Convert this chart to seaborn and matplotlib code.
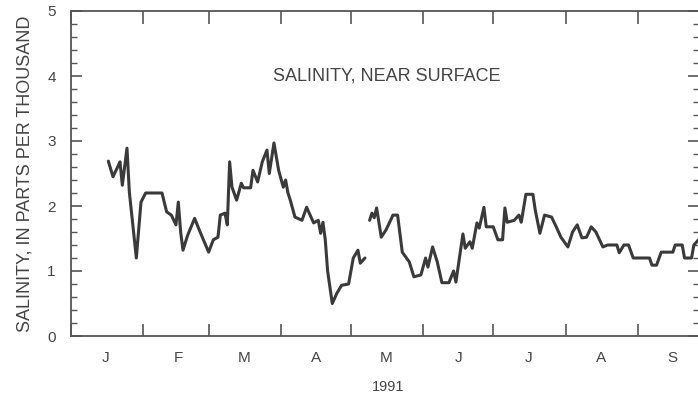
import numpy as np
import pandas as pd
import seaborn as sns
import matplotlib.pyplot as plt
import matplotlib.dates as mdates
from matplotlib.ticker import MultipleLocator, NullFormatter

# days after Jan 1 1991 and salinity (ppt)
seg1_days = [16, 18, 20, 21, 22, 24, 25, 28, 30, 32, 39, 41, 43, 45, 46, 47, 48,
             50, 53, 55, 59, 61, 63, 64, 66, 67, 68, 69, 71, 73, 74, 77, 78, 80,
             82, 84, 85, 87, 89, 91, 92, 93, 94, 96, 99, 101, 102, 104, 106, 107,
             108, 109, 110, 112, 114, 116, 119, 121, 123, 124, 126]
seg1_vals = [2.69, 2.45, 2.60, 2.68, 2.32, 2.89, 2.22, 1.20, 2.06, 2.20, 2.20, 1.91,
             1.86, 1.71, 2.06, 1.60, 1.32, 1.55, 1.81, 1.63, 1.29, 1.48, 1.52, 1.86,
             1.89, 1.71, 2.68, 2.29, 2.09, 2.35, 2.28, 2.28, 2.55, 2.37, 2.68, 2.86,
             2.50, 2.97, 2.55, 2.29, 2.40, 2.20, 2.09, 1.83, 1.78, 1.98, 1.90, 1.74,
             1.78, 1.58, 1.75, 1.48, 1.00, 0.50, 0.66, 0.78, 0.80, 1.20, 1.32, 1.12,
             1.20]

seg2_days = [128, 129, 130, 131, 133, 135, 137, 138, 140, 142, 145, 147, 150, 152,
             153, 155, 157, 159, 162, 164, 165, 168, 169, 171, 172, 174, 175, 177,
             178, 181, 183, 185, 186, 187, 190, 192, 193, 195, 198, 199, 201, 203,
             206, 208, 210, 213, 215, 217, 219, 221, 223, 225, 228, 230, 234, 235,
             237, 239, 241, 248, 249, 251, 253, 258, 259, 262, 263, 266, 267, 269]
seg2_vals = [1.78, 1.89, 1.82, 1.97, 1.52, 1.63, 1.78, 1.86, 1.86, 1.29, 1.14, 0.91,
             0.94, 1.20, 1.06, 1.37, 1.14, 0.82, 0.82, 1.00, 0.83, 1.57, 1.35, 1.45,
             1.35, 1.74, 1.66, 1.98, 1.68, 1.68, 1.48, 1.48, 1.97, 1.75, 1.78, 1.86,
             1.75, 2.18, 2.18, 1.94, 1.58, 1.86, 1.83, 1.68, 1.52, 1.37, 1.60, 1.71,
             1.51, 1.52, 1.68, 1.60, 1.37, 1.40, 1.40, 1.28, 1.40, 1.40, 1.20, 1.20,
             1.09, 1.09, 1.29, 1.29, 1.40, 1.40, 1.20, 1.20, 1.40, 1.48]

month_labels = ["J", "F", "M", "A", "M", "J", "J", "A", "S"]

start = pd.Timestamp("1991-01-01")
df = pd.DataFrame({
    "date": start + pd.to_timedelta(seg1_days + seg2_days, unit="D"),
    "salinity": seg1_vals + seg2_vals,
    "segment": [1] * len(seg1_days) + [2] * len(seg2_days),
})

sns.set_style("ticks")
plt.rcParams["font.family"] = ["Liberation Sans", "DejaVu Sans"]
ink = "#444444"

fig = plt.figure(figsize=(6.98, 4.0), dpi=100)
ax = fig.add_axes([71 / 698, 64 / 400, 628 / 698, 325 / 400])

sns.lineplot(data=df, x="date", y="salinity", units="segment", estimator=None,
             color="#3a3a3a", lw=2.2, ax=ax, legend=False)

# month boundaries as tick marks, month initials at mid-month
ax.xaxis.set_major_locator(mdates.MonthLocator())
ax.xaxis.set_major_formatter(NullFormatter())
mids = pd.date_range("1991-01-01", periods=9, freq="MS") + pd.Timedelta(days=15)
ax.set_xticks(mids, labels=month_labels, minor=True)
ax.tick_params(axis="x", which="major", direction="in", length=9, width=1.2,
               top=True, bottom=True, color="#555555")
ax.tick_params(axis="x", which="minor", length=0, pad=11, labelsize=11, labelcolor=ink)

ax.set_xlim(start, start + pd.Timedelta(days=269.2))
ax.set_ylim(0, 5)

ax.yaxis.set_major_locator(MultipleLocator(1))
ax.yaxis.set_minor_locator(MultipleLocator(0.2))
ax.tick_params(axis="y", which="major", direction="in", length=8, width=1.2,
               left=True, right=True, pad=11, labelsize=11, labelcolor=ink, color="#555555")
ax.tick_params(axis="y", which="minor", direction="in", length=4, width=1.0,
               left=True, right=True, color="#555555")

for sp in ax.spines.values():
    sp.set_visible(True)
    sp.set_linewidth(1.3)
    sp.set_color("#555555")

ax.set_xlabel("")
ax.set_ylabel("SALINITY, IN PARTS PER THOUSAND", fontsize=13, color=ink, labelpad=10)
ax.text(0.502, 0.80, "SALINITY, NEAR SURFACE", transform=ax.transAxes,
        ha="center", va="center", fontsize=13, color=ink)
ax.text(0.505, -0.157, "1991", transform=ax.transAxes,
        ha="center", va="center", fontsize=10.5, color=ink)

fig.savefig("out.png", dpi=100)
